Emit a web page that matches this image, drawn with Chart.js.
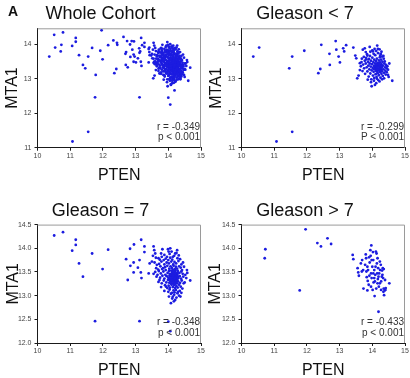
<!DOCTYPE html>
<html>
<head>
<meta charset="utf-8">
<script src="https://cdn.jsdelivr.net/npm/chart.js@4/dist/chart.umd.min.js"></script>
<style>
  html, body { margin: 0; padding: 0; background: #fff; overflow: hidden; }
  #wrap { position: relative; width: 410px; height: 378px; overflow: hidden; background: #fff; }
  .panel { position: absolute; }
  .panel canvas { display: block; }
</style>
</head>
<body>
<div id="wrap">
  <div class="panel" style="left:0px;top:0px"><canvas id="c1" width="226" height="190"></canvas></div>
  <div class="panel" style="left:205px;top:0px"><canvas id="c2" width="224" height="190"></canvas></div>
  <div class="panel" style="left:0px;top:190px"><canvas id="c3" width="224" height="200"></canvas></div>
  <div class="panel" style="left:205px;top:190px"><canvas id="c4" width="230" height="200"></canvas></div>
</div>
<script>
// PTEN vs MTA1 expression, one [PTEN, MTA1] pair per patient
const gleasonLow = [
  [10.36,13.64],[10.54,13.90],[11.55,13.64],[11.46,13.30],[11.92,13.81],[12.44,13.98],[12.88,14.09],
  [13.20,13.97],[12.69,13.72],[12.90,13.84],[13.11,13.88],[13.14,13.79],[12.97,13.64],[13.01,13.47],
  [12.70,13.40],[12.41,13.28],[12.35,13.16],[13.42,13.90],[11.07,11.18],[11.55,11.46],
  [13.48,13.67],[13.51,13.59],[13.54,13.01],[13.58,13.09],[13.62,13.25],[13.67,13.48],[13.71,13.84],
  [13.77,13.88],[13.80,13.77],[13.85,13.67],[13.92,13.92],[13.98,12.78],[14.02,13.79],[14.07,13.86],
  [14.15,13.96],[14.17,13.86],[14.26,13.71],[14.30,13.64],[14.38,13.50],[14.44,13.30],[14.48,13.11],
  [14.61,12.94],[14.36,13.01],[14.12,12.87],[14.05,12.94],
  [13.62,13.45],[13.65,13.36],[13.68,13.58],[13.70,13.22],[13.72,13.41],[13.74,13.63],[13.75,13.30],
  [13.77,13.52],[13.78,13.14],[13.80,13.44],[13.81,13.60],[13.83,13.33],[13.84,13.71],[13.85,13.21],
  [13.87,13.49],[13.88,13.38],[13.89,13.06],[13.90,13.57],[13.91,13.27],[13.92,13.44],[13.93,13.66],
  [13.94,13.15],[13.95,13.35],[13.96,13.52],[13.97,12.98],[13.98,13.24],[13.99,13.42],[14.00,13.61],
  [14.01,13.31],[14.02,13.09],[14.03,13.48],[14.04,13.20],[14.05,13.37],[14.06,13.55],[14.06,13.02],
  [14.07,13.27],[14.08,13.44],[14.09,13.68],[14.10,13.13],[14.10,13.33],[14.11,13.51],[14.12,13.22],
  [14.13,13.40],[14.13,13.05],[14.14,13.58],[14.15,13.29],[14.16,13.16],[14.16,13.46],[14.17,13.36],
  [14.18,13.74],[14.18,12.96],[14.19,13.25],[14.20,13.53],[14.20,13.10],[14.21,13.41],[14.22,13.31],
  [14.23,13.62],[14.23,13.19],[14.24,13.47],[14.25,13.03],[14.25,13.35],[14.26,13.26],[14.27,13.55],
  [14.28,13.14],[14.28,13.42],[14.29,13.32],[14.30,13.21],[14.31,13.49],[14.32,13.08],[14.33,13.38],
  [14.34,13.27],[14.35,13.58],[14.36,13.17],[14.37,13.44],[14.39,13.33],[14.40,13.23],[14.41,13.12],
  [14.42,13.40],[14.44,13.19],[14.46,13.36],[14.48,13.26],[14.50,13.05],[14.52,13.44],[14.00,13.82],
  [14.04,13.72],[14.12,13.80],[14.22,13.85],[14.28,13.78],[13.86,12.97],[13.96,12.90],[14.08,12.82],
  [14.22,12.92],[14.30,12.98],[14.14,13.00],[14.24,13.66],[13.94,13.78],[13.82,13.56],[14.34,13.66],
  [14.09,13.30],[14.13,13.25],[14.16,13.35],[14.19,13.28],[14.21,13.37],[14.24,13.30],[14.11,13.38],
  [14.15,13.21],[14.18,13.43],[14.26,13.39],[14.07,13.35],[14.22,13.24],[14.14,13.32],[14.20,13.46],
  [14.27,13.22],[14.12,13.43],[14.17,13.27],[14.23,13.40],[14.29,13.36],[14.05,13.28]
];

const gleasonSeven = [
  [10.51,14.27],[10.78,14.34],[11.17,14.18],[11.17,14.07],[11.06,13.95],[11.27,13.68],[11.39,13.40],
  [11.67,13.89],[12.16,13.97],[11.99,13.56],[11.76,12.46],[13.12,12.46],[14.06,12.25],[12.71,13.77],
  [12.83,13.99],[12.95,14.08],[13.17,14.18],[12.76,13.33],[12.84,13.63],[12.94,13.70],[12.94,13.49],
  [13.07,13.59],[13.16,13.49],[13.18,13.37],[13.27,14.04],[13.27,13.92],[13.12,13.75],[14.00,12.45],
  [13.40,13.47],[13.43,13.68],[13.50,13.72],[13.53,13.84],[13.55,14.04],[13.57,13.96],[13.60,13.89],
  [13.65,13.65],[13.67,13.44],[13.70,13.79],[13.73,13.33],[13.78,13.89],[13.82,13.98],[13.84,13.58],
  [13.86,13.75],[13.91,13.44],[13.93,13.19],[13.96,13.82],[13.99,13.98],[14.01,13.93],[14.06,14.00],
  [14.08,13.04],[14.08,12.84],[14.14,12.98],[14.21,12.91],[14.27,13.96],[14.30,13.08],[14.37,12.98],
  [14.42,13.54],[14.47,13.26],[14.52,13.44],[14.67,13.32],[14.57,13.54],[14.14,13.82],[14.21,13.89],
  [13.88,13.86],[14.04,13.88],[14.10,13.93],[14.18,13.84],[14.25,13.90],[14.32,13.85],
  [13.62,13.80],[13.74,13.76],[13.92,13.78],[14.00,13.75],[14.06,13.80],[14.12,13.76],[14.28,13.79],
  [14.36,13.77],[13.80,13.82],
  [13.58,13.70],[13.72,13.67],[13.79,13.72],[13.88,13.66],[13.95,13.70],[14.02,13.68],[14.09,13.72],
  [14.15,13.66],[14.19,13.71],[14.24,13.68],[14.31,13.73],[14.40,13.66],[14.45,13.70],
  [13.63,13.58],[13.76,13.62],[13.81,13.56],[13.90,13.60],[13.97,13.63],[14.03,13.57],[14.07,13.62],
  [14.11,13.58],[14.16,13.63],[14.20,13.56],[14.23,13.61],[14.27,13.57],[14.33,13.62],[14.38,13.59],
  [14.48,13.61],[13.69,13.55],
  [13.60,13.50],[13.71,13.52],[13.77,13.47],[13.85,13.51],[13.92,13.54],[13.98,13.48],[14.02,13.52],
  [14.05,13.46],[14.09,13.53],[14.12,13.49],[14.15,13.54],[14.17,13.46],[14.20,13.50],[14.22,13.53],
  [14.26,13.47],[14.29,13.52],[14.34,13.48],[14.40,13.51],[14.44,13.46],[14.58,13.48],[13.55,13.46],
  [13.64,13.40],[13.75,13.38],[13.82,13.42],[13.88,13.36],[13.95,13.41],[14.00,13.38],[14.04,13.43],
  [14.07,13.36],[14.10,13.41],[14.13,13.37],[14.16,13.43],[14.18,13.39],[14.21,13.35],[14.23,13.42],
  [14.25,13.38],[14.28,13.44],[14.31,13.37],[14.35,13.41],[14.39,13.36],[14.46,13.40],[14.55,13.37],
  [13.70,13.29],[13.80,13.26],[13.86,13.32],[13.94,13.28],[13.99,13.33],[14.03,13.27],[14.06,13.31],
  [14.09,13.25],[14.12,13.30],[14.15,13.26],[14.17,13.33],[14.20,13.28],[14.24,13.31],[14.27,13.26],
  [14.30,13.30],[14.36,13.27],[14.41,13.32],[14.50,13.28],
  [13.78,13.18],[13.90,13.22],[13.97,13.16],[14.01,13.21],[14.05,13.17],[14.10,13.23],[14.14,13.18],
  [14.18,13.22],[14.21,13.16],[14.25,13.20],[14.29,13.17],[14.33,13.23],[14.38,13.19],[14.43,13.15],
  [13.88,13.10],[14.00,13.08],[14.04,13.13],[14.11,13.06],[14.16,13.11],[14.19,13.07],[14.23,13.12],
  [14.28,13.05],[14.35,13.10],[14.40,13.06],
  [14.02,12.98],[14.12,12.94],[14.18,13.02],[14.25,12.96],[14.33,13.00],[14.17,12.88],
  [14.08,13.35],[14.11,13.45],[14.14,13.33],[14.17,13.41],[14.19,13.31],[14.22,13.44],[14.24,13.36],
  [14.26,13.42],[14.13,13.47],[14.09,13.29],[14.20,13.38],[14.15,13.39],[14.27,13.34],[14.05,13.40],
  [14.18,13.47],[14.23,13.29],[14.11,13.38],[14.29,13.40],[14.16,13.30],[14.21,13.46],[14.07,13.44],
  [14.25,13.32],[14.14,13.43],[14.19,13.36],[14.12,13.51],[14.28,13.48],[14.03,13.35],[14.22,13.25],
  [14.17,13.52],[14.10,13.32]
];

const gleasonHigh = [
  [10.73,13.98],[10.71,13.79],[11.96,14.40],[11.78,13.11],[12.32,14.11],[12.43,14.04],[12.63,14.21],
  [12.74,14.09],[14.19,12.66],
  [13.40,13.86],[13.42,13.77],[13.55,13.58],[13.57,13.49],[13.59,13.42],[13.65,13.68],[13.69,13.75],
  [13.72,13.54],[13.73,13.15],[13.80,13.87],[13.81,13.79],[13.82,13.51],[13.83,13.39],[13.85,13.61],
  [13.86,13.31],[13.89,13.23],[13.92,13.70],[13.95,13.84],[13.96,13.47],[13.97,14.06],[13.98,13.37],
  [14.00,13.61],[14.01,13.12],[14.03,13.75],[14.04,13.28],[14.06,13.54],[14.07,12.99],[14.09,13.44],
  [14.11,13.93],[14.13,13.89],[14.14,13.68],[14.16,13.79],[14.17,13.35],[14.18,13.58],[14.20,13.19],
  [14.21,13.47],[14.23,13.26],[14.26,13.65],[14.27,13.12],[14.29,13.40],[14.30,13.53],[14.32,13.58],
  [14.34,13.08],[14.35,13.15],[14.36,13.01],[14.38,13.11],[14.39,13.33],[14.52,13.26],[13.94,13.96],
  [14.02,13.92],[13.87,13.54],[13.91,13.42],[14.08,13.30],[14.12,13.15],[14.15,13.47],[14.19,13.40],
  [14.24,13.54],[14.31,13.44],[14.35,13.56],[14.40,13.12],[14.41,13.16],[13.98,13.75],[13.78,13.65],
  [13.68,13.51],[13.90,13.81],[14.16,13.26],[14.27,13.30],[14.06,13.37],[13.96,13.19],[13.85,13.11],
  [14.33,13.37],[14.10,13.61],[14.23,13.72],[14.03,13.47]
];

const wholeCohort = gleasonLow.concat(gleasonSeven, gleasonHigh);

const panelTitles = ['Whole Cohort', 'Gleason < 7', 'Gleason = 7', 'Gleason > 7'];
const statLines = [
  ['r = -0.349', 'p < 0.001'],
  ['r = -0.299', 'P < 0.001'],
  ['r = -0.348', 'p < 0.001'],
  ['r = -0.433', 'p < 0.001']
];
const xTicks = [10, 11, 12, 13, 14, 15];
const yTicksWide = [11, 12, 13, 14];
const yTicksNarrow = [12.0, 12.5, 13.0, 13.5, 14.0, 14.5];

const FONT = "'Liberation Sans', Arial, Helvetica, sans-serif";
const DOT = '#1c1ce0';
const AXIS = '#1a1a1a';

// light frame along the top and right of the plotting area
const framePlugin = {
  id: 'frame',
  beforeDatasetsDraw(chart) {
    const { ctx, chartArea: a } = chart;
    ctx.save();
    ctx.strokeStyle = '#9a9a9a';
    ctx.lineWidth = 1;
    ctx.beginPath();
    ctx.moveTo(a.left, a.top + 0.5);
    ctx.lineTo(a.right - 0.5, a.top + 0.5);
    ctx.lineTo(a.right - 0.5, a.bottom);
    ctx.stroke();
    ctx.restore();
  }
};

// correlation statistics in the lower right corner
const statsPlugin = {
  id: 'stats',
  afterDatasetsDraw(chart, args, opts) {
    const { ctx, chartArea: a } = chart;
    ctx.save();
    ctx.font = '10px ' + FONT;
    ctx.fillStyle = '#333';
    ctx.textAlign = 'right';
    ctx.textBaseline = 'middle';
    ctx.fillText(opts.lines[0], a.right - 1, a.bottom - 20.5);
    ctx.fillText(opts.lines[1], a.right - 1, a.bottom - 10);
    if (opts.tag) {
      ctx.font = 'bold 14px ' + FONT;
      ctx.fillStyle = '#111';
      ctx.textAlign = 'left';
      ctx.fillText(opts.tag, 8, 12);
    }
    ctx.restore();
  }
};

function makePanel(id, idx, points, cfg) {
  const yTicks = cfg.narrow ? yTicksNarrow : yTicksWide;
  return new Chart(document.getElementById(id), {
    type: 'scatter',
    data: {
      datasets: [{
        data: points.map(p => ({ x: p[0], y: p[1] })),
        pointRadius: 1.4,
        pointHoverRadius: 1.4,
        pointBackgroundColor: DOT,
        pointBorderWidth: 0,
        borderWidth: 0
      }]
    },
    options: {
      responsive: false,
      animation: false,
      devicePixelRatio: 1,
      events: [],
      layout: { padding: { left: 0, right: cfg.padRight, top: 0, bottom: 0 } },
      plugins: {
        legend: { display: false },
        tooltip: { enabled: false },
        title: {
          display: true,
          text: panelTitles[idx],
          color: '#111',
          font: { family: FONT, size: 18, weight: 'normal' },
          padding: { top: cfg.titleTop, bottom: cfg.titleBottom }
        },
        stats: { lines: statLines[idx], tag: cfg.tag || '' }
      },
      scales: {
        x: {
          type: 'linear',
          min: xTicks[0],
          max: xTicks[xTicks.length - 1],
          afterBuildTicks(s) { s.ticks = xTicks.map(v => ({ value: v })); },
          afterFit(s) { s.height = cfg.xHeight; },
          ticks: { font: { family: FONT, size: 7 }, color: '#444', padding: 1, maxRotation: 0, autoSkip: false },
          grid: { drawOnChartArea: false, drawTicks: true, tickLength: 3, color: AXIS, lineWidth: 1 },
          border: { display: true, color: AXIS, width: 1 },
          title: {
            display: true, text: 'PTEN', color: '#111',
            font: { family: FONT, size: 16 },
            padding: { top: 0, bottom: cfg.xTitlePad }
          }
        },
        y: {
          type: 'linear',
          min: yTicks[0],
          max: cfg.yMax,
          afterBuildTicks(s) { s.ticks = yTicks.map(v => ({ value: v })); },
          afterFit(s) { s.width = cfg.yWidth; },
          ticks: {
            font: { family: FONT, size: 7 }, color: '#444', padding: 3, autoSkip: false,
            callback: v => cfg.narrow ? Number(v).toFixed(1) : String(v)
          },
          grid: { drawOnChartArea: false, drawTicks: true, tickLength: 3, color: AXIS, lineWidth: 1 },
          border: { display: true, color: AXIS, width: 1 },
          title: {
            display: true, text: 'MTA1', color: '#111',
            font: { family: FONT, size: 16 },
            padding: { top: cfg.yTitlePad, bottom: 0 }
          }
        }
      }
    },
    plugins: [framePlugin, statsPlugin]
  });
}

makePanel('c1', 0, wholeCohort, {
  padRight: 25, yWidth: 37.5, xHeight: 42.3, yMax: 14.46,
  titleTop: 3.7, titleBottom: 3.0, xTitlePad: 4.4, yTitlePad: 3, tag: 'A'
});
makePanel('c2', 1, gleasonLow, {
  padRight: 24, yWidth: 36.5, xHeight: 42.3, yMax: 14.46,
  titleTop: 3.7, titleBottom: 3.0, xTitlePad: 4.4, yTitlePad: 2
});
makePanel('c3', 2, gleasonSeven, {
  narrow: true, padRight: 23, yWidth: 37.5, xHeight: 47, yMax: 14.5,
  titleTop: 10.2, titleBottom: 2.8, xTitlePad: 9.4, yTitlePad: 3.5
});
makePanel('c4', 3, gleasonHigh, {
  narrow: true, padRight: 30, yWidth: 36.5, xHeight: 47, yMax: 14.5,
  titleTop: 10.2, titleBottom: 2.8, xTitlePad: 9.4, yTitlePad: 1
});
</script>
</body>
</html>
